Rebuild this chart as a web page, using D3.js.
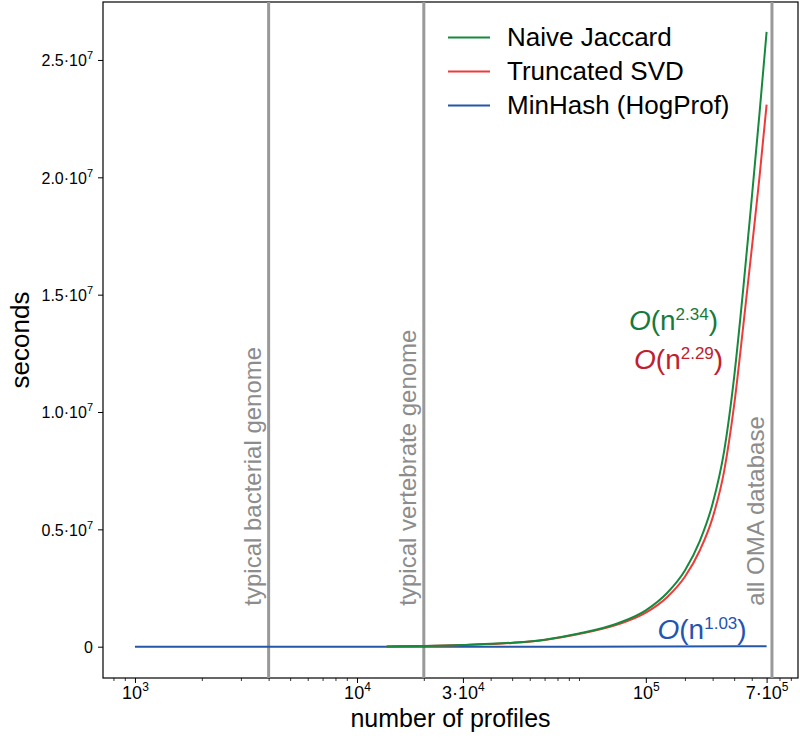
<!DOCTYPE html>
<html>
<head>
<meta charset="utf-8">
<script src="https://cdn.jsdelivr.net/npm/d3@7"></script>
<style>
  html, body { margin: 0; padding: 0; background: #fff; }
  svg { display: block; }
  text { font-family: "Liberation Sans", Arial, Helvetica, sans-serif; }
</style>
</head>
<body>
<div id="chart"></div>
<script>
// ---------------- data ----------------
const seriesNames = ["Naive Jaccard", "Truncated SVD", "MinHash (HogProf)"];
const seriesColors = ["#17893d", "#ef3a3a", "#2457a8"];

const curveProfiles = [13600, 20000, 30000, 50000, 70000, 100000, 150000, 200000, 250000,
                       300000, 350000, 400000, 450000, 500000, 550000, 600000, 650000, 700000];
const naiveJaccardSec = [0.01e6, 0.03e6, 0.07e6, 0.17e6, 0.3e6, 0.56e6, 1.0e6, 1.55e6, 2.3e6,
                         3.25e6, 4.5e6, 6.1e6, 8.3e6, 11.5e6, 15.3e6, 19.1e6, 22.7e6, 26.2e6];
const truncatedSVDSec = [0.01e6, 0.03e6, 0.07e6, 0.16e6, 0.29e6, 0.54e6, 0.95e6, 1.45e6, 2.12e6,
                         2.98e6, 4.1e6, 5.5e6, 7.45e6, 10.3e6, 13.7e6, 16.95e6, 20.0e6, 23.1e6];
const minHashProfiles = [1000, 10000, 100000, 700000];
const minHashSec = [20, 200, 2400, 18000];

const complexityLabels = ["2.34", "2.29", "1.03"];
const complexityColors = ["#177a3a", "#c0202c", "#2553b0"];

const refLineProfiles = [4000, 20000, 740000];
const refLineLabels = ["typical bacterial genome", "typical vertebrate genome", "all OMA database"];

const xTickValues = [1000, 10000, 30000, 200000, 700000];
const xTickLabels = [["10", "3"], ["10", "4"], ["3·10", "4"], ["10", "5"], ["7·10", "5"]];
const yTickValues = [0, 5e6, 10e6, 15e6, 20e6, 25e6];
const yTickLabels = [["0", ""], ["0.5·10", "7"], ["1.0·10", "7"], ["1.5·10", "7"], ["2.0·10", "7"], ["2.5·10", "7"]];

const xDomain = [717.8, 969400];
const yDomain = [-1.334e6, 27.47e6];

// ---------------- layout ----------------
const W = 800, H = 743;
const plot = { left: 103, right: 798, top: 2, bottom: 678 };

const svg = d3.select("#chart").append("svg").attr("width", W).attr("height", H);

const x = d3.scaleLog().domain(xDomain).range([plot.left, plot.right]);
const y = d3.scaleLinear().domain(yDomain).range([plot.bottom, plot.top]);

svg.append("defs").append("clipPath").attr("id", "clip")
  .append("rect").attr("x", plot.left).attr("y", plot.top)
  .attr("width", plot.right - plot.left).attr("height", plot.bottom - plot.top);

// minor x ticks
const minorTicks = [];
for (let k = 2; k <= 5; k++) {
  for (let d = 1; d <= 9; d++) {
    const v = d * Math.pow(10, k);
    if (v >= xDomain[0] && v <= xDomain[1] && !xTickValues.includes(v)) minorTicks.push(v);
  }
}
svg.append("g").attr("transform", `translate(0,${plot.bottom})`)
  .call(d3.axisBottom(x).tickValues(minorTicks).tickSize(3).tickFormat(""))
  .call(g => g.select(".domain").remove())
  .call(g => g.selectAll("line").attr("stroke", "#000").attr("stroke-width", 0.8));

// major x axis
const xAxisG = svg.append("g").attr("transform", `translate(0,${plot.bottom})`)
  .call(d3.axisBottom(x).tickValues(xTickValues).tickSize(5).tickPadding(8).tickFormat(""));
xAxisG.select(".domain").remove();
xAxisG.selectAll("line").attr("stroke", "#000").attr("stroke-width", 1);
xAxisG.selectAll(".tick text").each(function(d, i) {
  const t = d3.select(this).attr("font-size", 18).attr("fill", "#000")
    .attr("font-family", "Liberation Sans, Arial, sans-serif").attr("dy", "0.44em");
  t.append("tspan").text(xTickLabels[i][0]);
  t.append("tspan").attr("font-size", 12).attr("dy", -8).text(xTickLabels[i][1]);
});

// y axis
const yAxisG = svg.append("g").attr("transform", `translate(${plot.left},0)`)
  .call(d3.axisLeft(y).tickValues(yTickValues).tickSize(5).tickPadding(5).tickFormat(""));
yAxisG.select(".domain").remove();
yAxisG.selectAll("line").attr("stroke", "#000").attr("stroke-width", 1);
yAxisG.selectAll(".tick text").each(function(d, i) {
  const t = d3.select(this).attr("font-size", 16).attr("fill", "#000")
    .attr("font-family", "Liberation Sans, Arial, sans-serif").attr("dy", "0.36em");
  t.append("tspan").text(yTickLabels[i][0]);
  if (yTickLabels[i][1]) t.append("tspan").attr("font-size", 11).attr("dy", -7).text(yTickLabels[i][1]);
});

// frame
svg.append("rect").attr("x", plot.left).attr("y", plot.top)
  .attr("width", plot.right - plot.left).attr("height", plot.bottom - plot.top)
  .attr("fill", "none").attr("stroke", "#000").attr("stroke-width", 1.2);

// reference lines
const refG = svg.append("g").attr("clip-path", "url(#clip)");
refLineProfiles.forEach((n, i) => {
  refG.append("line").attr("x1", x(n)).attr("x2", x(n))
    .attr("y1", plot.top).attr("y2", plot.bottom)
    .attr("stroke", "#999999").attr("stroke-width", 3);
  svg.append("text")
    .attr("transform", `translate(${x(n) - 8},${y(0) - 41}) rotate(-90)`)
    .attr("font-size", 24).attr("fill", "#8c8c8c").attr("text-anchor", "start")
    .text(refLineLabels[i]);
});

// curves
const line = d3.line().x(d => x(d[0])).y(d => y(d[1])).curve(d3.curveMonotoneX);
const seriesData = [
  curveProfiles.map((n, i) => [n, naiveJaccardSec[i]]),
  curveProfiles.map((n, i) => [n, truncatedSVDSec[i]]),
  minHashProfiles.map((n, i) => [n, minHashSec[i]])
];
const curveG = svg.append("g").attr("clip-path", "url(#clip)");
[2, 1, 0].forEach(i => {
  curveG.append("path").datum(seriesData[i]).attr("d", line)
    .attr("fill", "none").attr("stroke", seriesColors[i]).attr("stroke-width", 2);
});

// complexity annotations (anchored to data positions via scales)
const annot = [
  { n: 423000, v: 13.5e6 },
  { n: 446000, v: 11.85e6 },
  { n: 569000, v: 0.33e6 }
];
annot.forEach((a, i) => {
  const t = svg.append("text").attr("x", x(a.n)).attr("y", y(a.v))
    .attr("text-anchor", "end").attr("font-size", 28).attr("fill", complexityColors[i]);
  t.append("tspan").attr("font-style", "italic").text("O");
  t.append("tspan").text("(n");
  t.append("tspan").attr("font-size", 17).attr("dy", -10).text(complexityLabels[i]);
  t.append("tspan").attr("dy", 10).text(")");
});

// legend
const legend = svg.append("g").attr("transform", "translate(448,46)");
seriesNames.forEach((name, i) => {
  const g = legend.append("g").attr("transform", `translate(0,${i * 34})`);
  g.append("line").attr("x1", 0).attr("x2", 42).attr("y1", -8.5).attr("y2", -8.5)
    .attr("stroke", seriesColors[i]).attr("stroke-width", 2.2);
  g.append("text").attr("x", 59).attr("y", 0).attr("font-size", 26).attr("fill", "#000").text(name);
});

// axis titles
svg.append("text").attr("x", (plot.left + plot.right) / 2).attr("y", 727)
  .attr("text-anchor", "middle").attr("font-size", 25).attr("fill", "#000")
  .text("number of profiles");
svg.append("text").attr("transform", `translate(29,${(plot.top + plot.bottom) / 2}) rotate(-90)`)
  .attr("text-anchor", "middle").attr("font-size", 26).attr("fill", "#000")
  .text("seconds");
</script>
</body>
</html>
